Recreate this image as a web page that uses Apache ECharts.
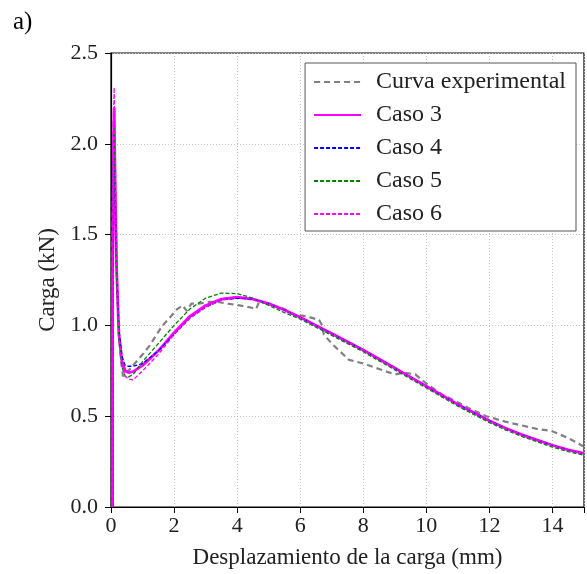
<!DOCTYPE html>
<html>
<head>
<meta charset="utf-8">
<script src="https://cdn.jsdelivr.net/npm/echarts@6/dist/echarts.min.js"></script>
<style>
html,body{margin:0;padding:0;background:#fff;}
#c{width:587px;height:574px;}
</style>
</head>
<body>
<div id="c"></div>
<script>
// ---- data ----
var xTicks = [0, 2, 4, 6, 8, 10, 12, 14];
var yTicks = ['0.0', '0.5', '1.0', '1.5', '2.0', '2.5'];

var expX = [0.05,0.05,0.08,0.1,0.13,0.18,0.25,0.32,0.38,0.45,0.6,0.8,1.0,1.23,1.45,1.64,1.9,2.1,2.27,2.4,2.55,2.8,3.1,3.35,3.7,4.07,4.4,4.6,4.7,5.0,5.5,5.8,6.2,6.6,6.7,6.75,7.0,7.55,8.0,8.5,9.0,9.3,9.65,10.0,10.5,10.9,11.4,11.9,12.5,13.0,13.5,13.95,14.5,14.97];
var expY = [0,1.5,2.1,2.19,1.8,1.3,0.95,0.8,0.72,0.73,0.76,0.8,0.84,0.89,0.95,1.0,1.05,1.09,1.11,1.08,1.12,1.12,1.13,1.13,1.12,1.11,1.10,1.09,1.13,1.12,1.09,1.06,1.05,1.03,1.00,0.95,0.90,0.81,0.79,0.76,0.73,0.74,0.73,0.68,0.62,0.585,0.54,0.50,0.47,0.45,0.43,0.42,0.38,0.335];

var simX = [0.05,0.05,0.08,0.1,0.13,0.18,0.25,0.35,0.45,0.55,0.7,1.0,1.5,2.0,2.5,3.0,3.5,4.0,4.5,5.0,5.5,6.0,6.5,7.0,7.5,8.0,8.5,9.0,9.5,10,10.5,11,11.5,12,12.5,13,13.5,14,14.5,15];
var caso3Y = [0,1.2,2.0,2.2,1.8,1.3,0.95,0.8,0.75,0.74,0.745,0.78,0.86,0.96,1.05,1.11,1.145,1.155,1.145,1.12,1.085,1.045,1.0,0.955,0.91,0.865,0.815,0.765,0.715,0.665,0.615,0.565,0.52,0.475,0.435,0.40,0.37,0.34,0.315,0.295];
var caso4Y = [0,1.2,1.9,2.05,1.75,1.3,0.98,0.83,0.78,0.775,0.775,0.79,0.86,0.95,1.04,1.10,1.14,1.15,1.145,1.12,1.085,1.045,1.0,0.955,0.91,0.865,0.815,0.765,0.715,0.665,0.615,0.565,0.52,0.475,0.435,0.40,0.37,0.34,0.315,0.295];
var caso5Y = [0,1.2,1.95,2.1,1.75,1.25,0.93,0.77,0.72,0.715,0.73,0.80,0.90,1.0,1.09,1.15,1.178,1.175,1.15,1.11,1.07,1.035,0.99,0.945,0.9,0.855,0.805,0.755,0.705,0.655,0.605,0.555,0.51,0.465,0.425,0.39,0.36,0.33,0.305,0.285];
var caso6Y = [0,1.3,2.1,2.31,1.9,1.35,0.95,0.78,0.72,0.705,0.70,0.75,0.84,0.95,1.04,1.10,1.14,1.155,1.145,1.12,1.085,1.045,1.0,0.955,0.91,0.865,0.815,0.765,0.715,0.665,0.615,0.565,0.52,0.475,0.435,0.40,0.37,0.34,0.315,0.295];

var names = ['Curva experimental', 'Caso 3', 'Caso 4', 'Caso 5', 'Caso 6'];

function pairs(xs, ys){ return xs.map(function(x,i){ return [x, ys[i]]; }); }

var FONT = 'Liberation Serif';
var chart = echarts.init(document.getElementById('c'), null, {renderer:'canvas'});
function mk(name, data, color, width, type){
  return {name:name, type:'line', data:data, symbol:'none', showSymbol:false, smooth:false, animation:false,
    lineStyle:{color:color, width:width, type:type}, itemStyle:{color:color}};
}
chart.setOption({
  animation:false,
  backgroundColor:'#fff',
  grid:{left:111, right:0, top:53, bottom:59, show:true, borderColor:'#000', borderWidth:1.2},
  title:{text:'a)', left:8, top:5, textStyle:{fontFamily:FONT, fontSize:25, fontWeight:'normal', color:'#000'}},
  xAxis:{type:'value', min:0, max:15, interval:2,
    name:'Desplazamiento de la carga (mm)', nameLocation:'middle', nameGap:39,
    nameTextStyle:{fontFamily:FONT, fontSize:23, color:'#222'},
    axisLine:{onZero:false, lineStyle:{color:'#000', width:1.2}},
    axisTick:{show:true, length:6, inside:false, lineStyle:{color:'#000'}},
    axisLabel:{fontFamily:FONT, fontSize:22, color:'#222', margin:8,
      formatter:function(v){ return xTicks.indexOf(v)>=0 ? String(v) : ''; }},
    splitLine:{show:true, lineStyle:{color:'#c4c4c4', type:[1,2], width:1}}
  },
  yAxis:{type:'value', min:0, max:2.5, interval:0.5,
    name:'Carga (kN)', nameLocation:'middle', nameGap:52,
    nameTextStyle:{fontFamily:FONT, fontSize:23, color:'#222'},
    axisLine:{onZero:false, lineStyle:{color:'#000', width:1.2}},
    axisTick:{show:true, length:6, inside:false, lineStyle:{color:'#000'}},
    axisLabel:{fontFamily:FONT, fontSize:22, color:'#222', margin:13,
      formatter:function(v){ return yTicks[Math.round(v/0.5)]; }},
    splitLine:{show:true, lineStyle:{color:'#c4c4c4', type:[1,2], width:1}}
  },
  legend:{data:names, orient:'vertical', right:11, top:63, padding:[7,10,5,8],
    itemWidth:47, itemHeight:10, itemGap:9,
    itemStyle:{opacity:0},
    backgroundColor:'#fff', borderColor:'#555', borderWidth:1, borderRadius:0,
    textStyle:{fontFamily:FONT, fontSize:24, lineHeight:22, color:'#222', padding:[0,0,0,10]}},
  series:[
    mk(names[0], pairs(expX, expY), '#808080', 2.2, [6,4]),
    mk(names[1], pairs(simX, caso3Y), '#ff00ff', 2.8, 'solid'),
    mk(names[2], pairs(simX, caso4Y), '#0000ff', 1.3, [4,2]),
    mk(names[3], pairs(simX, caso5Y), '#008000', 1.3, [4,2]),
    mk(names[4], pairs(simX, caso6Y), '#ff00ff', 1.3, [4,2])
  ]
});
</script>
</body>
</html>
